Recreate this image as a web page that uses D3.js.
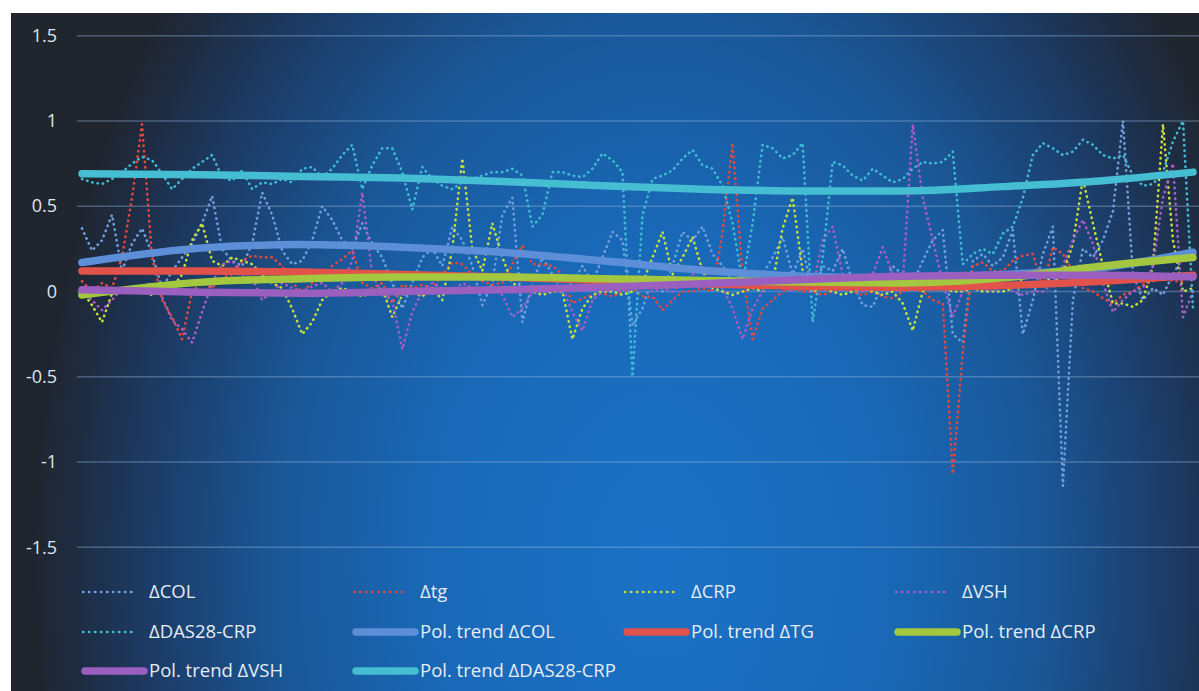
<!DOCTYPE html>
<html>
<head>
<meta charset="utf-8">
<script src="https://cdn.jsdelivr.net/npm/d3@7"></script>
<style>
  html, body { margin: 0; padding: 0; background: #ffffff; }
  svg { display: block; }
  text { font-family: "Open Sans", "Noto Sans", sans-serif; }
</style>
</head>
<body>
<svg id="chart" width="1199" height="691"></svg>
<script>
// Change scores per patient (112 patients, in order)
const yTicks = [-1.5, -1, -0.5, 0, 0.5, 1, 1.5];

const colVals = [
  0.37, 0.24, 0.30, 0.45, 0.12, 0.28, 0.37, 0.22, 0.02, 0.12,
  0.20, 0.28, 0.40, 0.56, 0.25, 0.18, 0.15, 0.28, 0.58, 0.45,
  0.24, 0.16, 0.18, 0.30, 0.50, 0.42, 0.30, 0.25, 0.40, 0.28,
  0.20, 0.05, -0.10, 0.05, 0.20, 0.25, 0.15, 0.38, 0.30, 0.15,
  -0.08, 0.05, 0.45, 0.55, -0.18, 0.05, 0.20, 0.10, 0.00, 0.05,
  0.15, 0.05, 0.20, 0.35, 0.30, -0.20, -0.10, 0.08, 0.00, 0.15,
  0.35, 0.30, 0.38, 0.22, 0.15, 0.05, 0.12, 0.05, 0.10, 0.20,
  0.32, 0.10, 0.25, 0.00, 0.15, 0.12, 0.25, 0.05, -0.08, -0.09,
  0.05, 0.15, 0.10, 0.05, 0.18, 0.30, 0.36, -0.25, -0.30, 0.18,
  0.22, 0.15, 0.20, 0.36, -0.25, -0.05, 0.22, 0.38, -1.14, -0.05,
  0.25, 0.20, 0.30, 0.47, 1.00, 0.10, -0.05, 0.02, -0.02, 0.10,
  0.20, 0.24
];

const tgVals = [
  0.06, 0.00, 0.05, 0.02, 0.20, 0.55, 0.98, 0.20, -0.05, -0.15,
  -0.28, 0.00, 0.05, 0.02, 0.08, 0.10, 0.18, 0.21, 0.20, 0.20,
  0.15, 0.05, 0.00, 0.05, 0.08, 0.15, 0.19, 0.24, 0.05, 0.02,
  0.05, -0.07, 0.04, 0.02, 0.04, 0.02, 0.10, 0.17, 0.16, 0.10,
  0.06, 0.04, 0.05, 0.16, 0.27, 0.16, 0.16, 0.15, 0.10, -0.07,
  -0.04, -0.02, -0.01, -0.03, 0.00, 0.02, -0.03, -0.03, -0.11, -0.05,
  0.00, 0.00, 0.02, 0.00, 0.35, 0.87, 0.10, -0.28, -0.10, -0.05,
  0.00, 0.02, 0.00, 0.00, -0.02, 0.00, 0.02, 0.00, -0.02, 0.00,
  -0.03, -0.04, 0.00, 0.02, 0.00, -0.05, -0.07, -1.07, -0.35, 0.15,
  0.17, 0.12, 0.12, 0.18, 0.21, 0.22, 0.02, 0.26, 0.22, 0.12,
  0.02, 0.00, -0.04, -0.07, -0.02, 0.00, 0.04, 0.06, 0.10, 0.06,
  0.06, 0.11
];

const crpVals = [
  0.00, -0.08, -0.18, -0.01, 0.00, 0.02, 0.00, -0.02, 0.00, 0.02,
  0.10, 0.30, 0.40, 0.18, 0.15, 0.20, 0.18, 0.16, 0.10, 0.05,
  0.02, -0.10, -0.25, -0.18, -0.05, 0.00, 0.02, 0.00, -0.03, 0.00,
  0.02, -0.15, -0.02, 0.00, -0.03, 0.02, -0.05, 0.25, 0.78, 0.25,
  0.12, 0.40, 0.20, 0.05, 0.02, 0.00, -0.02, 0.00, 0.00, -0.28,
  -0.10, -0.02, 0.00, 0.00, -0.02, 0.00, 0.05, 0.20, 0.35, 0.10,
  0.20, 0.32, 0.12, 0.02, 0.00, -0.02, 0.00, 0.02, 0.00, 0.05,
  0.37, 0.55, 0.12, 0.00, 0.02, 0.00, -0.02, 0.00, 0.02, 0.00,
  -0.02, 0.00, -0.07, -0.23, 0.00, 0.05, 0.02, 0.00, 0.00, 0.02,
  0.00, 0.00, 0.00, 0.02, 0.08, 0.12, 0.10, 0.05, 0.10, 0.28,
  0.66, 0.40, 0.15, -0.07, -0.07, -0.09, -0.05, 0.15, 0.98, 0.30,
  0.00, 0.02
];

const vshVals = [
  0.00, -0.05, -0.11, -0.05, 0.02, 0.00, 0.03, 0.05, -0.03, -0.17,
  -0.22, -0.30, -0.12, 0.05, 0.16, 0.18, 0.10, 0.08, -0.05, 0.00,
  0.05, 0.02, 0.00, 0.03, 0.05, 0.00, 0.05, 0.18, 0.58, 0.10,
  -0.02, -0.05, -0.34, -0.12, 0.00, 0.05, 0.02, 0.00, 0.05, 0.02,
  0.00, 0.03, -0.02, -0.15, -0.10, 0.00, 0.02, 0.00, 0.02, -0.12,
  -0.23, -0.05, 0.00, 0.02, 0.00, 0.02, 0.05, 0.00, 0.02, 0.00,
  0.05, 0.10, 0.15, 0.05, 0.02, -0.10, -0.28, -0.10, 0.00, 0.05,
  0.02, 0.00, 0.05, 0.02, 0.30, 0.38, 0.10, 0.05, 0.00, 0.10,
  0.26, 0.10, 0.05, 0.98, 0.55, 0.30, 0.05, -0.15, 0.00, 0.05,
  0.02, 0.00, 0.05, 0.00, -0.02, 0.00, 0.00, 0.05, 0.15, 0.30,
  0.42, 0.28, 0.05, -0.12, -0.05, 0.00, 0.02, 0.15, 0.55, 0.75,
  -0.15, 0.00
];

const dasVals = [
  0.66, 0.64, 0.63, 0.66, 0.70, 0.75, 0.79, 0.77, 0.69, 0.60,
  0.66, 0.72, 0.76, 0.80, 0.67, 0.65, 0.71, 0.60, 0.64, 0.63,
  0.66, 0.64, 0.72, 0.73, 0.67, 0.72, 0.80, 0.86, 0.60, 0.74,
  0.84, 0.84, 0.70, 0.48, 0.73, 0.66, 0.62, 0.60, 0.64, 0.66,
  0.68, 0.70, 0.70, 0.72, 0.68, 0.38, 0.45, 0.70, 0.70, 0.68,
  0.67, 0.72, 0.81, 0.77, 0.70, -0.50, 0.45, 0.66, 0.68, 0.71,
  0.78, 0.83, 0.74, 0.72, 0.62, 0.40, 0.05, 0.40, 0.86, 0.84,
  0.78, 0.80, 0.87, -0.18, 0.20, 0.76, 0.74, 0.68, 0.65, 0.72,
  0.68, 0.64, 0.66, 0.72, 0.76, 0.75, 0.76, 0.82, 0.16, 0.22,
  0.25, 0.22, 0.34, 0.38, 0.55, 0.80, 0.87, 0.84, 0.80, 0.82,
  0.89, 0.86, 0.80, 0.78, 0.80, 0.68, 0.62, 0.63, 0.70, 0.88,
  1.00, -0.10
];

// Polynomial trend curves, sampled at these patient positions
const trendIdx = [0, 12, 22, 32, 42, 52, 62, 72, 82, 92, 102, 111];
const trendCOL = [0.17, 0.255, 0.275, 0.26, 0.23, 0.18, 0.125, 0.09, 0.08, 0.10, 0.14, 0.23];
const trendTG  = [0.12, 0.12, 0.115, 0.10, 0.085, 0.065, 0.045, 0.03, 0.025, 0.035, 0.06, 0.095];
const trendCRP = [-0.02, 0.055, 0.075, 0.085, 0.085, 0.075, 0.065, 0.055, 0.05, 0.08, 0.15, 0.20];
const trendVSH = [0.01, -0.005, -0.01, 0.0, 0.01, 0.025, 0.045, 0.07, 0.09, 0.095, 0.095, 0.085];
const trendDAS = [0.69, 0.685, 0.675, 0.665, 0.645, 0.62, 0.60, 0.59, 0.59, 0.615, 0.65, 0.70];

const seriesNames = ["ΔCOL", "Δtg", "ΔCRP", "ΔVSH", "ΔDAS28-CRP"];
const trendNames = ["Pol. trend ΔCOL", "Pol. trend ΔTG", "Pol. trend ΔCRP", "Pol. trend ΔVSH", "Pol. trend ΔDAS28-CRP"];

const dotColors = ["#6f9edb", "#e6473b", "#c6de3c", "#a95cc6", "#40b9d2"];
const trendColors = ["#5d8fd8", "#e0524a", "#a3c83f", "#9a5fbf", "#45bdd2"];

const svg = d3.select("#chart");
const W = 1199, H = 691;

// Panel background: blue glow fading to dark edges
const defs = svg.append("defs");
const rg = defs.append("radialGradient")
  .attr("id", "bg")
  .attr("gradientUnits", "userSpaceOnUse")
  .attr("cx", 660).attr("cy", 560).attr("r", 630)
  .attr("gradientTransform", "translate(660,560) scale(1,1.45) translate(-660,-560)");
[[0, "#1b72c6"], [0.35, "#1969b8"], [0.6, "#1a5899"], [0.8, "#1c3d69"], [0.93, "#1e2c42"], [1, "#20252e"]]
  .forEach(([o, c]) => rg.append("stop").attr("offset", o).attr("stop-color", c));

svg.append("rect").attr("x", 11).attr("y", 13).attr("width", W - 11).attr("height", H - 13)
  .attr("fill", "url(#bg)");

const n = dasVals.length;
const x = d3.scaleLinear().domain([0, n - 1]).range([82, 1193]);
const y = d3.scaleLinear().domain([-1.5, 1.5]).range([547.3, 35.7]);

// Gridlines
svg.append("g").selectAll("line").data(yTicks).join("line")
  .attr("x1", 77).attr("x2", W)
  .attr("y1", d => y(d)).attr("y2", d => y(d))
  .attr("stroke", "rgba(150,185,220,0.38)").attr("stroke-width", 1.5);

// Y axis labels
const yAxis = d3.axisLeft(y).tickValues(yTicks).tickSize(0).tickPadding(0)
  .tickFormat(d => String(d));
const ya = svg.append("g").attr("transform", "translate(57,0)").call(yAxis);
ya.select(".domain").remove();
ya.selectAll("text").attr("fill", "#dfe6ee").attr("font-size", 18)
  .style("font-family", '"Open Sans", sans-serif');

// Dotted data series
const allVals = [colVals, tgVals, crpVals, vshVals, dasVals];
const line = d3.line().x((d, i) => x(i)).y(d => y(d));
const gSeries = svg.append("g");
allVals.forEach((vals, k) => {
  gSeries.append("path").datum(vals)
    .attr("d", line)
    .attr("fill", "none")
    .attr("stroke", dotColors[k])
    .attr("stroke-width", 2.6)
    .attr("stroke-linecap", "round")
    .attr("stroke-linejoin", "round")
    .attr("stroke-dasharray", "0.4 5");
});

// Trend lines
const allTrends = [trendCOL, trendTG, trendCRP, trendVSH, trendDAS];
const tLine = d3.line().x((d, i) => x(trendIdx[i])).y(d => y(d)).curve(d3.curveMonotoneX);
const gTrend = svg.append("g");
allTrends.forEach((vals, k) => {
  gTrend.append("path").datum(vals)
    .attr("d", tLine)
    .attr("fill", "none")
    .attr("stroke", trendColors[k])
    .attr("stroke-width", 7.5)
    .attr("stroke-linecap", "round");
});

// Legend: four columns, three rows
const legendItems = [];
seriesNames.forEach((name, k) => legendItems.push({ name, color: dotColors[k], dotted: true }));
trendNames.forEach((name, k) => legendItems.push({ name, color: trendColors[k], dotted: false }));
const colX = [82, 353, 624, 895];
const rowY = [592, 632, 671];
const gLeg = svg.append("g");
legendItems.forEach((it, i) => {
  const cx = colX[i % 4], cy = rowY[Math.floor(i / 4)];
  const g = gLeg.append("g").attr("transform", `translate(${cx},${cy})`);
  if (it.dotted) {
    g.append("line").attr("x1", 1).attr("x2", 52).attr("y1", 0).attr("y2", 0)
      .attr("stroke", it.color).attr("stroke-width", 2.6)
      .attr("stroke-linecap", "round").attr("stroke-dasharray", "0.4 5.6");
  } else {
    g.append("line").attr("x1", 3).attr("x2", 62).attr("y1", 0).attr("y2", 0)
      .attr("stroke", it.color).attr("stroke-width", 7.5).attr("stroke-linecap", "round");
  }
  g.append("text").attr("x", 67).attr("y", 0).attr("dy", "0.35em")
    .attr("fill", "#e6ecf3").attr("font-size", 18.5).text(it.name);
});
</script>
</body>
</html>
